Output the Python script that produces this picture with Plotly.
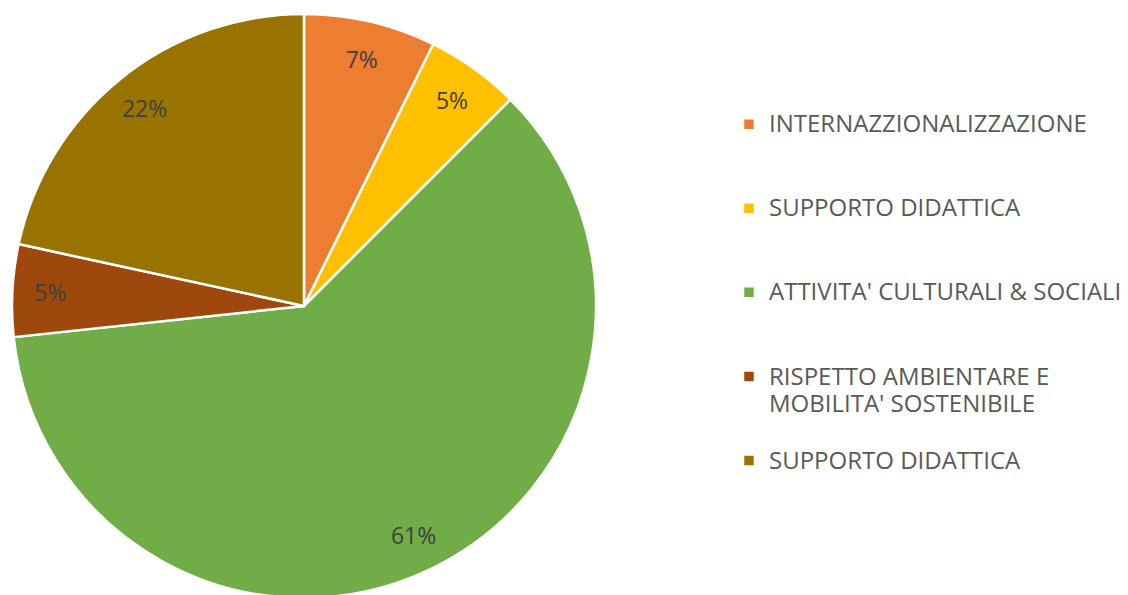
import plotly.graph_objects as go

categories = ["INTERNAZZIONALIZZAZIONE", "SUPPORTO DIDATTICA", "ATTIVITA' CULTURALI & SOCIALI",
              "RISPETTO AMBIENTARE E<br>MOBILITA' SOSTENIBILE", "SUPPORTO DIDATTICA"]
values = [7.3, 5.2, 60.8, 5.1, 21.6]
colors = ["#ED7D31", "#FFC000", "#70AD47", "#9E480E", "#997300"]

LEG_TEXT = 24
# legend labels: extra blank lines give Excel-like spacing; zero-width marks keep duplicates distinct
labels = []
for i, c in enumerate(categories):
    body = f'<span style="font-size:{LEG_TEXT}px">{c}</span>'
    if "<br>" in c:
        lab = "\u00a0<br>" + body.replace("<br>", f'</span><br><span style="font-size:{LEG_TEXT}px">')
    else:
        lab = "\u00a0<br>" + body + "<br>\u00a0"
    lab += "\u200b" * i
    labels.append(lab)

domain = dict(x=[0, 592 / 1128], y=[0, 1])

# base pie (slices + legend)
fig = go.Figure(go.Pie(
    labels=labels,
    values=values,
    sort=False,
    direction="clockwise",
    rotation=0,
    marker=dict(colors=colors, line=dict(color="white", width=2.5)),
    textinfo="none",
    domain=domain,
    hoverinfo="skip",
))

# transparent ring overlay, used only to place percentage labels near the rim (Excel style)
fig.add_trace(go.Pie(
    labels=labels,
    values=values,
    sort=False,
    direction="clockwise",
    rotation=0,
    hole=0.74,
    marker=dict(colors=["rgba(0,0,0,0)"] * len(values), line=dict(width=0)),
    texttemplate="%{percent:.0%}",
    textposition="inside",
    insidetextorientation="horizontal",
    textfont=dict(family="Open Sans", size=23, color="#404040"),
    domain=domain,
    showlegend=False,
    hoverinfo="skip",
))

fig.update_layout(
    width=1128, height=595,
    margin=dict(l=0, r=0, t=6, b=5),
    paper_bgcolor="white",
    plot_bgcolor="white",
    font=dict(family="Open Sans", color="#595959"),
    legend=dict(
        x=721 / 1128, xanchor="left",
        y=0.892, yanchor="top",
        font=dict(family="Open Sans", size=20.8, color="#595959"),
        bgcolor="rgba(0,0,0,0)",
    ),
    showlegend=True,
)

fig.write_html("out.html")
